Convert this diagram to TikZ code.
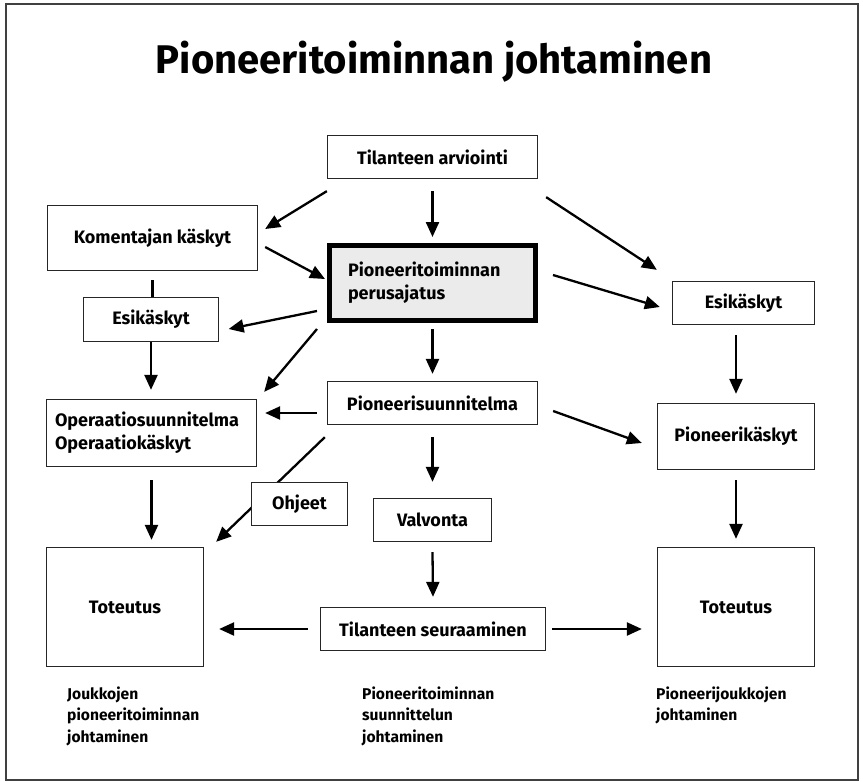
\documentclass[tikz,border=0pt]{standalone}
\usepackage{fontspec}
\setmainfont{Fira Sans}
\usetikzlibrary{calc,arrows.meta}
\definecolor{boxgray}{HTML}{EBEBEB}
\tikzset{
  box/.style={draw=black!85,line width=1.3pt,fill=white,inner sep=0pt,
    font=\fontsize{18}{23}\selectfont\bfseries,align=center},
  arr/.style={line width=2.3pt,-{Triangle[length=15pt,width=13pt]}},
  plainline/.style={line width=2.3pt},
  lbl/.style={anchor=north west,inner sep=0pt,align=left,
    font=\fontsize{15.6}{21.5}\selectfont\bfseries}
}
\begin{document}
\begin{tikzpicture}[x=1pt,y=-1pt]
\useasboundingbox (0,0) rectangle (863,782);
\draw[line width=1.6pt,black!75] (6,4) rectangle (858,780);
\node[anchor=base,inner sep=0pt,font=\fontsize{40}{48}\selectfont\bfseries] (title) at (434,73) {Pioneeritoiminnan johtaminen};

\node[box,minimum width=210pt,minimum height=43pt] (tilA) at (432.5,157) {Tilanteen arviointi};
\node[box,minimum width=210pt,minimum height=65pt] (kom) at (152.5,238) {Komentajan käskyt};
\node[box,draw=black,line width=5pt,fill=boxgray,minimum width=206pt,minimum height=75pt,align=left,text width=169pt] (perus) at (432.5,283) {Pioneeritoiminnan\\perusajatus};
\node[box,minimum width=135pt,minimum height=43.5pt] (esiL) at (151,319.5) {Esikäskyt};
\node[box,minimum width=142pt,minimum height=43pt] (esiR) at (743.5,303) {Esikäskyt};
\node[box,minimum width=210pt,minimum height=67pt,align=left,text width=193pt] (opera) at (151.5,433) {Operaatiosuunnitelma\\Operaatiokäskyt};
\node[box,minimum width=210pt,minimum height=43pt] (pios) at (432.5,403) {Pioneerisuunnitelma};
\node[box,minimum width=157pt,minimum height=66pt] (pioK) at (736,436.5) {Pioneerikäskyt};
\node[box,minimum width=118pt,minimum height=43pt] (valv) at (432.5,520) {Valvonta};
\node[box,minimum width=157pt,minimum height=119pt] (totL) at (125,607) {Toteutus};
\node[box,minimum width=225pt,minimum height=43pt] (tilS) at (433,629) {Tilanteen seuraaminen};
\node[box,minimum width=157pt,minimum height=119pt] (totR) at (736,607) {Toteutus};

% connectors
\draw[arr] ($(tilA.south west)+(0,12)$) -- ($(kom.east)+(7,-9)$);
\draw[arr] ($(tilA.south)+(0,12)$) -- ($(perus.north)+(0,-6)$);
\draw[arr] ($(tilA.south east)+(8,18)$) -- ($(esiR.north west)+(-15,-11)$);
\draw[arr] ($(kom.east)+(7,9)$) -- ($(perus.west)+(-2,-4)$);
\draw[arr] ($(perus.west)+(-10,28)$) -- ($(esiL.east)+(9.5,9.5)$);
\draw[arr] ($(perus.east)+(15,-8)$) -- ($(esiR.west)+(-12,4)$);
\draw[arr] ($(perus.south west)+(-10,6)$) -- ($(opera.north east)+(7,-7)$);
\draw[arr] ($(perus.south)+(0,6)$) -- ($(pios.north)+(0,-7)$);
\draw[plainline] ($(kom.south)+(0,9)$) -- (kom.south |- esiL.north);
\draw[arr] (esiL.south) -- ($(esiL.south |- opera.north)+(0,-9)$);
\draw[arr] ($(pioK.north |- esiR.south)+(0,10)$) -- ($(pioK.north)+(0,-9)$);
\draw[arr] ($(pios.west)+(-10,10)$) -- ($(opera.east |- pios.west)+(8,10)$);
\draw[arr] ($(pios.east)+(15,8)$) -- ($(pioK.west)+(-15,6.5)$);
\draw[arr] ($(pios.south west)+(-2,12)$) -- ($(totL.north east)+(12,-5)$);
\draw[arr] ($(pios.south)+(0,12)$) -- ($(valv.north)+(0,-16)$);
\draw[arr] ($(opera.south)+(0,13)$) -- ($(opera.south |- totL.north)+(0,-7)$);
\draw[arr] ($(pioK.south)+(0,10)$) -- ($(totR.north)+(0,-8)$);
\draw[arr] ($(valv.south)+(0,10)$) -- ($(tilS.north)+(0,-10)$);
\draw[arr] ($(tilS.west)+(-12,0)$) -- ($(totL.east |- tilS.west)+(15,0)$);
\draw[arr] ($(tilS.east)+(6,0)$) -- ($(totR.west |- tilS.east)+(-15,0)$);

\node[box,minimum width=96pt,minimum height=43pt] (ohj) at (299.5,504) {Ohjeet};

\node[lbl] (lblL) at (67,686.5) {Joukkojen\\pioneeritoiminnan\\johtaminen};
\node[lbl] (lblC) at (362,686.5) {Pioneeritoiminnan\\suunnittelun\\johtaminen};
\node[lbl] (lblR) at (656,686.5) {Pioneerijoukkojen\\johtaminen};
\end{tikzpicture}
\end{document}
